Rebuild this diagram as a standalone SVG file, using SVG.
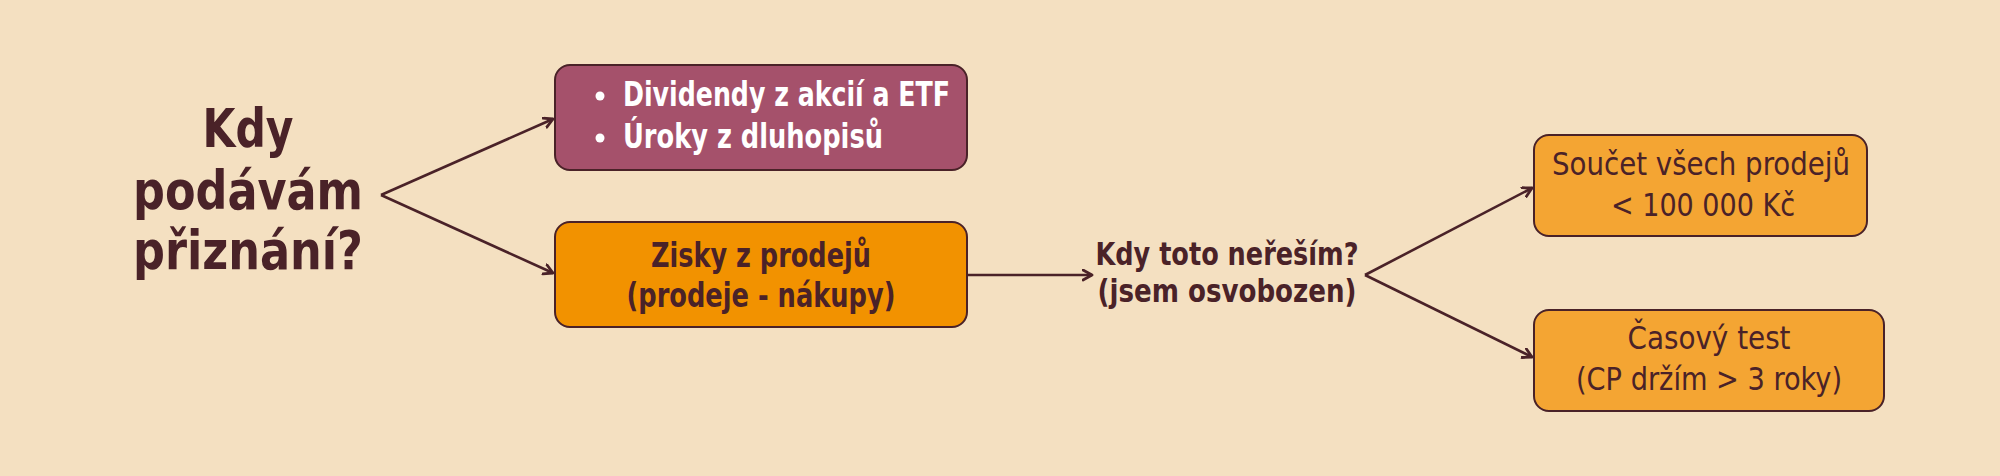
<svg xmlns="http://www.w3.org/2000/svg" width="2000" height="476" viewBox="0 0 2000 476">
<defs>
<style>
.box{stroke:#4a2228;stroke-width:2}
.t{font-family:"Liberation Sans Narrow","DejaVu Sans Condensed","Roboto Condensed","Liberation Sans",sans-serif;fill:#4a2228;text-anchor:middle}
.title{font-size:54px;font-weight:700}
.w{fill:#ffffff;font-size:33px;font-weight:700;text-anchor:start}
.b1{font-size:34px;font-weight:700}
.q{font-size:32px;font-weight:700}
.r{font-size:32px;font-weight:400}
.conn path{fill:none;stroke:#4a2228;stroke-width:2.6}
</style>
<marker id="arr" markerUnits="userSpaceOnUse" markerWidth="14" markerHeight="14" refX="10" refY="6" orient="auto">
<path d="M1,1 L10,6 L1,11" fill="none" stroke="#4a2228" stroke-width="2.8" stroke-linecap="round" stroke-linejoin="round"/>
</marker>
</defs>
<rect width="2000" height="476" fill="#f4e0c1"/>
<g id="title">
<text class="t title" x="248" y="147" textLength="91" lengthAdjust="spacingAndGlyphs">Kdy</text>
<text class="t title" x="248" y="209" textLength="230" lengthAdjust="spacingAndGlyphs">podávám</text>
<text class="t title" x="248" y="269" textLength="230" lengthAdjust="spacingAndGlyphs">přiznání?</text>
</g>
<g class="conn" id="connectors">
<path d="M381,195 L553,119" marker-end="url(#arr)"/>
<path d="M381,195 L553,273" marker-end="url(#arr)"/>
<path d="M967,275 L1092,275" marker-end="url(#arr)"/>
<path d="M1365,275 L1532,188" marker-end="url(#arr)"/>
<path d="M1365,275 L1532,357" marker-end="url(#arr)"/>
</g>
<g id="income">
<rect class="box" x="555" y="65" width="412" height="105" rx="15" fill="#a5516b"/>
<circle cx="600" cy="96" r="4.5" fill="#ffffff"/>
<circle cx="600" cy="138" r="4.5" fill="#ffffff"/>
<text class="t w" x="623" y="106" textLength="327" lengthAdjust="spacingAndGlyphs">Dividendy z akcií a ETF</text>
<text class="t w" x="623" y="148" textLength="260" lengthAdjust="spacingAndGlyphs">Úroky z dluhopisů</text>
</g>
<g id="gains">
<rect class="box" x="555" y="222" width="412" height="105" rx="15" fill="#f29200"/>
<text class="t b1" x="761" y="267" textLength="220" lengthAdjust="spacingAndGlyphs">Zisky z prodejů</text>
<text class="t b1" x="761" y="307" textLength="269" lengthAdjust="spacingAndGlyphs">(prodeje - nákupy)</text>
</g>
<g id="question">
<text class="t q" x="1227" y="265" textLength="263" lengthAdjust="spacingAndGlyphs">Kdy toto neřeším?</text>
<text class="t q" x="1227" y="302" textLength="259" lengthAdjust="spacingAndGlyphs">(jsem osvobozen)</text>
</g>
<g id="sum">
<rect class="box" x="1534" y="135" width="333" height="101" rx="15" fill="#f4a533"/>
<text class="t r" x="1701" y="175" textLength="298" lengthAdjust="spacingAndGlyphs">Součet všech prodejů</text>
<text class="t r" x="1703" y="216" textLength="184" lengthAdjust="spacingAndGlyphs">&lt; 100 000 Kč</text>
</g>
<g id="time">
<rect class="box" x="1534" y="310" width="350" height="101" rx="15" fill="#f4a533"/>
<text class="t r" x="1709" y="349" textLength="163" lengthAdjust="spacingAndGlyphs">Časový test</text>
<text class="t r" x="1709" y="390" textLength="266" lengthAdjust="spacingAndGlyphs">(CP držím &gt; 3 roky)</text>
</g>
</svg>
